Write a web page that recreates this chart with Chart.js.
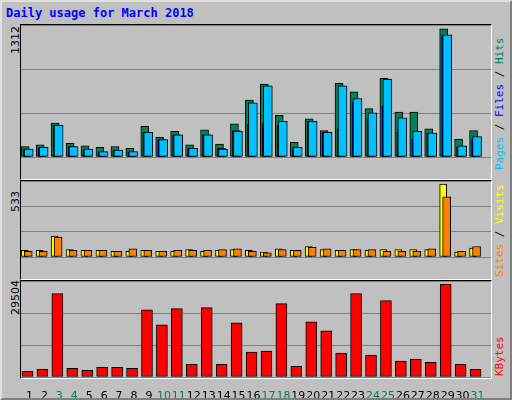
<!DOCTYPE html>
<html>
<head>
<meta charset="utf-8">
<script src="https://cdn.jsdelivr.net/npm/chart.js@4"></script>
<style>
  body { margin: 0; background: #c0c0c0; }
  #frame { position: absolute; left: 0; top: 0; width: 508px; height: 396px; background: #c0c0c0;
    border-left: 2px solid #e0e0e0; border-top: 2px solid #e0e0e0; border-right: 2px solid #808080; border-bottom: 2px solid #808080; }
  .panel { position: absolute; background: #c0c0c0; border-left: 1px solid #000; border-top: 1px solid #000;
    border-right: 1px solid #fff; border-bottom: 1px solid #fff; }
  canvas { position: absolute; }
  .t { position: absolute; font-family: "DejaVu Sans Mono", monospace; font-size: 12px; white-space: nowrap; }
  .up { transform-origin: 0 0; transform: rotate(-90deg); }
</style>
</head>
<body>
<div id="frame"></div>
<div class="t" style="left:6px;top:6px;color:#0000ff;font-weight:bold;">Daily usage for March 2018</div>
<div class="panel" style="left:20px;top:24px;width:470px;height:154px;"></div>
<div class="panel" style="left:20px;top:180px;width:470px;height:98px;"></div>
<div class="panel" style="left:20px;top:280px;width:470px;height:97px;"></div>
<div class="t up" style="left:9px;top:54px;font-family:'DejaVu Sans',sans-serif;font-size:11px;">1312</div>
<div class="t up" style="left:9px;top:212px;font-family:'DejaVu Sans',sans-serif;font-size:11px;">533</div>
<div class="t up" style="left:9px;top:315px;font-family:'DejaVu Sans',sans-serif;font-size:11px;">29504</div>
<div class="t up" style="left:493px;top:170px;font-size:11px;"><span style="color:#00c0ff">Pages</span> / <span style="color:#0000ff">Files</span> / <span style="color:#00805c">Hits</span></div>
<div class="t up" style="left:493px;top:277px;font-size:11px;"><span style="color:#ff8000">Sites</span> / <span style="color:#ffff00">Visits</span></div>
<div class="t up" style="left:493px;top:376px;font-size:11px;color:#ff0000;">KBytes</div>

<canvas id="c1" style="left:21px;top:25px;" width="470" height="153"></canvas>
<canvas id="c2" style="left:21px;top:181px;" width="470" height="97"></canvas>
<canvas id="c3" style="left:21px;top:281px;" width="470" height="117"></canvas>

<script>
const days = Array.from({ length: 31 }, (_, i) => i + 1);
const weekendDays = [3, 4, 10, 11, 17, 18, 24, 25, 31];

const hits = [106, 124, 348, 141, 115, 98, 106, 89, 314, 201, 262, 124, 279, 132, 339,
  581, 745, 426, 150, 391, 270, 754, 667, 495, 805, 460, 460, 288, 1312, 184, 270];
const files = [80, 98, 325, 106, 80, 55, 72, 55, 253, 178, 227, 89, 227, 80, 262,
  555, 728, 365, 98, 365, 253, 728, 598, 452, 797, 400, 262, 245, 1250, 115, 210];
const pages = [80, 92, 325, 106, 75, 50, 70, 50, 253, 178, 227, 85, 227, 89, 270,
  331, 348, 322, 80, 365, 253, 288, 564, 391, 521, 253, 184, 245, 1240, 98, 184];

const visits = [48, 48, 152, 54, 48, 48, 42, 42, 48, 42, 42, 54, 42, 48, 54,
  48, 36, 59, 48, 77, 54, 48, 54, 48, 54, 54, 54, 54, 533, 36, 65];
const sites = [42, 42, 146, 48, 48, 48, 42, 59, 48, 42, 48, 48, 48, 54, 59,
  42, 31, 54, 48, 71, 59, 48, 54, 54, 42, 42, 42, 59, 439, 42, 77];

const kbytes = [1817, 2459, 26511, 2780, 2138, 3100, 3100, 2780, 21380, 16570, 21700, 4062,
  22020, 4062, 17210, 7910, 8230, 23300, 3420, 17530, 14650, 7590, 26511, 6950, 24270,
  5020, 5670, 4700, 29504, 4062, 2459];

const pxDay = 14.93;
function shifted(values, px) {
  return values.map((v, i) => ({ x: days[i] + px / pxDay, y: v }));
}

function barSet(values, px, width, color, order) {
  return {
    data: shifted(values, px), backgroundColor: color, borderColor: "#000",
    borderWidth: 1, borderSkipped: false, barThickness: width, grouped: false, order: order
  };
}

function options(yMax, showTicks) {
  return {
    responsive: false, animation: false,
    layout: { padding: 0 },
    plugins: { legend: { display: false }, tooltip: { enabled: false } },
    scales: {
      x: {
        type: "linear", min: 0.45, max: 31.9, offset: false, display: showTicks,
        grid: { display: false }, border: { display: false },
        afterBuildTicks: (s) => { s.ticks = days.map((d) => ({ value: d })); },
        afterFit: (s) => { s.height = 21; },
        ticks: {
          autoSkip: false, maxRotation: 0,
          font: { family: "DejaVu Sans", size: 11 }, padding: 5,
          color: (c) => weekendDays.includes(c.tick.value) ? "#00805c" : "#000",
          callback: (v) => v
        }
      },
      y: {
        min: 0, max: yMax,
        ticks: { display: false, stepSize: yMax / 3 },
        grid: { color: "#808080", drawTicks: false },
        border: { display: false },
        afterFit: (s) => { s.width = 0; }
      }
    }
  };
}

new Chart(document.getElementById("c1"), {
  type: "bar",
  data: {
    datasets: [
      barSet(hits, -4, 8, "#00805c", 3),
      barSet(pages, -2, 8, "#0000ff", 2),
      barSet(files, -0.5, 9, "#00c0ff", 1)
    ]
  },
  options: options(1350, false)
});

new Chart(document.getElementById("c2"), {
  type: "bar",
  data: {
    datasets: [
      barSet(visits, -4.5, 7, "#ffff00", 2),
      barSet(sites, -1, 8, "#ff8000", 1)
    ]
  },
  options: options(555, false)
});

new Chart(document.getElementById("c3"), {
  type: "bar",
  data: { datasets: [barSet(kbytes, -2, 11, "#ff0000", 1)] },
  options: options(30500, true)
});
</script>
</body>
</html>
